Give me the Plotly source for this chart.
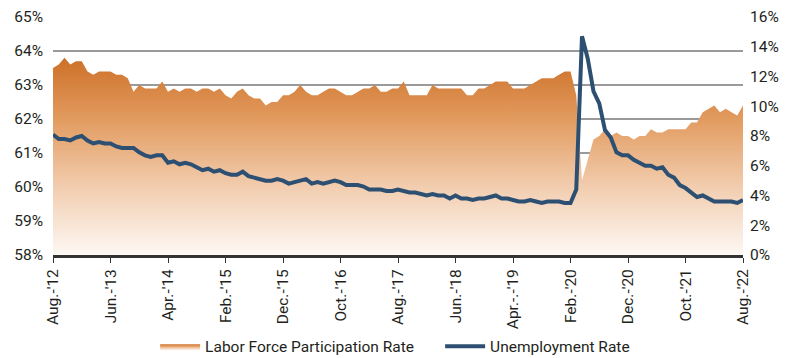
import plotly.graph_objects as go
import pandas as pd

months = [d.strftime("%Y-%m") for d in pd.date_range("2012-08-01", "2022-08-01", freq="MS")]

lfpr = [63.5, 63.6, 63.8, 63.6, 63.7, 63.7, 63.4, 63.3, 63.4, 63.4,
        63.4, 63.3, 63.3, 63.2, 62.8, 63.0, 62.9, 62.9, 62.9, 63.1,
        62.8, 62.9, 62.8, 62.9, 62.9, 62.8, 62.9, 62.9, 62.8, 62.9,
        62.7, 62.6, 62.8, 62.9, 62.7, 62.6, 62.6, 62.4, 62.5, 62.5,
        62.7, 62.7, 62.8, 63.0, 62.8, 62.7, 62.7, 62.8, 62.9, 62.9,
        62.8, 62.7, 62.7, 62.8, 62.9, 62.9, 63.0, 62.8, 62.8, 62.9,
        62.9, 63.1, 62.7, 62.7, 62.7, 62.7, 63.0, 62.9, 62.9, 62.9,
        62.9, 62.9, 62.7, 62.7, 62.9, 62.9, 63.0, 63.1, 63.1, 63.1,
        62.9, 62.9, 62.9, 63.0, 63.1, 63.2, 63.2, 63.2, 63.3, 63.4,
        63.4, 62.7, 60.2, 60.8, 61.4, 61.5, 61.7, 61.5, 61.6, 61.5,
        61.5, 61.4, 61.5, 61.5, 61.7, 61.6, 61.6, 61.7, 61.7, 61.7,
        61.7, 61.9, 61.9, 62.2, 62.3, 62.4, 62.2, 62.3, 62.2, 62.1,
        62.4]

unemp = [8.1, 7.8, 7.8, 7.7, 7.9, 8.0, 7.7, 7.5, 7.6, 7.5,
         7.5, 7.3, 7.2, 7.2, 7.2, 6.9, 6.7, 6.6, 6.7, 6.7,
         6.2, 6.3, 6.1, 6.2, 6.1, 5.9, 5.7, 5.8, 5.6, 5.7,
         5.5, 5.4, 5.4, 5.6, 5.3, 5.2, 5.1, 5.0, 5.0, 5.1,
         5.0, 4.8, 4.9, 5.0, 5.1, 4.8, 4.9, 4.8, 4.9, 5.0,
         4.9, 4.7, 4.7, 4.7, 4.6, 4.4, 4.4, 4.4, 4.3, 4.3,
         4.4, 4.3, 4.2, 4.2, 4.1, 4.0, 4.1, 4.0, 4.0, 3.8,
         4.0, 3.8, 3.8, 3.7, 3.8, 3.8, 3.9, 4.0, 3.8, 3.8,
         3.7, 3.6, 3.6, 3.7, 3.6, 3.5, 3.6, 3.6, 3.6, 3.5,
         3.5, 4.4, 14.7, 13.2, 11.0, 10.2, 8.4, 7.9, 6.9, 6.7,
         6.7, 6.4, 6.2, 6.0, 6.0, 5.8, 5.9, 5.4, 5.2, 4.7,
         4.5, 4.2, 3.9, 4.0, 3.8, 3.6, 3.6, 3.6, 3.6, 3.5,
         3.7]

tick_labels = ["Aug.-'12", "Jun.-'13", "Apr.-'14", "Feb.-'15", "Dec.-'15", "Oct.-'16",
               "Aug.-'17", "Jun.-'18", "Apr.-.-'19", "Feb.-'20", "Dec.-'20", "Oct.-'21", "Aug.-'22"]
tick_months = months[::10]

FONT = "Roboto, sans-serif"
FS = 15.5
TXT = "#231f20"

fig = go.Figure()
fig.add_trace(go.Scatter(
    x=months, y=lfpr, name="Labor Force Participation Rate",
    mode="lines", line=dict(width=0, color="#D27430"),
    fill="tozeroy",
    fillgradient=dict(type="vertical", start=58, stop=63.8,
                      colorscale=[[0, "#FDF8F4"], [0.345, "#F2CDAF"],
                                  [0.69, "#E29B5F"], [1, "#CD7028"]]),
    yaxis="y",
))
fig.add_trace(go.Scatter(
    x=months, y=unemp, name="Unemployment Rate",
    mode="lines", line=dict(width=4, color="#2D4F72"),
    yaxis="y2",
))

# page has an 8px body margin, so the figure is 792x350 to fill the 800x358 window
fig.update_layout(
    width=792, height=350,
    margin=dict(l=45, r=57, t=9, b=103, autoexpand=False),
    paper_bgcolor="white", plot_bgcolor="white",
    font=dict(family=FONT, size=FS, color=TXT),
    showlegend=True,
    legend=dict(orientation="h", x=0.148, xanchor="left", y=-0.385, yanchor="middle",
                font=dict(family=FONT, size=FS, color=TXT), itemwidth=40,
                entrywidth=230, entrywidthmode="pixels",
                traceorder="normal"),
    xaxis=dict(type="category", range=[0, 120], tickmode="array",
               tickvals=tick_months, ticktext=tick_labels, tickangle=-90,
               showgrid=False, showline=True, linecolor="#333333", linewidth=3,
               ticks="outside", ticklen=5, tickcolor="#333333", automargin=False,
               tickfont=dict(family=FONT, size=FS, color=TXT)),
    yaxis=dict(range=[58, 65], dtick=1, ticksuffix="%", showgrid=True,
               gridcolor="#9a9a9a", gridwidth=1.5, zeroline=False,
               showline=False, ticks="", automargin=False, ticklabelstandoff=9,
               tickfont=dict(family=FONT, size=FS, color=TXT)),
    yaxis2=dict(range=[0, 16], dtick=2, ticksuffix="%", overlaying="y", side="right",
                showgrid=False, zeroline=False, showline=False, ticks="", automargin=False,
                ticklabelstandoff=6,
                tickfont=dict(family=FONT, size=FS, color=TXT)),
)

fig.write_html("out.html")
